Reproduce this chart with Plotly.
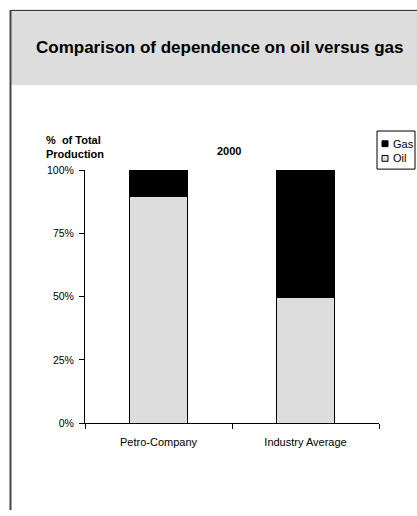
import plotly.graph_objects as go

categories = ["Petro-Company", "Industry Average"]
oil = [0.895, 0.495]
gas = [0.105, 0.505]
series_names = ["Gas", "Oil"]
y_ticks = [0, 0.25, 0.5, 0.75, 1.0]
y_tick_labels = ["0%", "25%", "50%", "75%", "100%"]

W, H = 417, 516
FONT = "Liberation Sans, Arial, sans-serif"
OIL_C = "#DDDDDD"
GAS_C = "#000000"

def px(x):
    return x / W

def py(y):
    return 1 - y / H

fig = go.Figure()
fig.add_trace(go.Bar(x=categories, y=oil, name="Oil", marker=dict(color=OIL_C, line=dict(color="black", width=1)), width=0.4, showlegend=False))
fig.add_trace(go.Bar(x=categories, y=gas, name="Gas", marker=dict(color=GAS_C, line=dict(color="black", width=1)), width=0.4, showlegend=False))

shapes = []
# header band
shapes.append(dict(type="rect", xref="paper", yref="paper", x0=px(11), x1=px(417), y0=py(81), y1=py(5), fillcolor="#DDDDDD", line=dict(width=0), layer="below"))
# frame
shapes.append(dict(type="line", xref="paper", yref="paper", x0=px(10), x1=px(417), y0=py(4.5), y1=py(4.5), line=dict(color="#222222", width=1)))
shapes.append(dict(type="line", xref="paper", yref="paper", x0=px(10.5), x1=px(10.5), y0=py(4), y1=py(516), line=dict(color="#444444", width=2)))
# legend box
lx0, lx1, ly0, ly1 = 377, 415, 128, 167
shapes.append(dict(type="rect", xref="paper", yref="paper", x0=px(lx0), x1=px(lx1), y0=py(ly1), y1=py(ly0), fillcolor="white", line=dict(color="black", width=1)))
legend_colors = {"Gas": GAS_C, "Oil": OIL_C}
ann = []
for i, nm in enumerate(series_names):
    cy = 141 + i * 15
    shapes.append(dict(type="rect", xref="paper", yref="paper", x0=px(382), x1=px(388), y0=py(cy + 3), y1=py(cy - 3), fillcolor=legend_colors[nm], line=dict(color="black", width=1)))
    ann.append(dict(text=nm, xref="paper", yref="paper", x=px(391), y=py(cy), xanchor="left", yanchor="middle", showarrow=False, font=dict(family=FONT, size=11, color="black")))

ann.append(dict(text="<b>Comparison of dependence on oil versus gas</b>", xref="paper", yref="paper", x=px(219.5), y=py(42), xanchor="center", yanchor="middle", showarrow=False, font=dict(family=FONT, size=17, color="black")))
ann.append(dict(text="<b>%  of Total<br>Production</b>", xref="paper", yref="paper", x=px(44), y=py(129), xanchor="left", yanchor="top", align="left", showarrow=False, font=dict(family=FONT, size=11, color="black")))
ann.append(dict(text="<b>2000</b>", xref="paper", yref="paper", x=px(228.5), y=py(148), xanchor="center", yanchor="middle", showarrow=False, font=dict(family=FONT, size=11, color="black")))

fig.update_layout(
    width=W, height=H, margin=dict(l=0, r=0, t=0, b=0),
    paper_bgcolor="white", plot_bgcolor="white",
    barmode="stack", showlegend=False,
    shapes=shapes, annotations=ann,
    xaxis=dict(domain=[px(85), px(379)], range=[-0.5, 1.5], type="category",
               showline=True, linecolor="black", linewidth=1, ticks="outside", ticklen=5,
               tickcolor="black", tickson="boundaries", showgrid=False, ticklabelstandoff=9,
               tickfont=dict(family=FONT, size=11, color="black")),
    yaxis=dict(domain=[py(427), py(168)], range=[0, 1], showline=True, linecolor="black", linewidth=1,
               ticks="outside", ticklen=5, tickcolor="black", tickvals=y_ticks, ticktext=y_tick_labels,
               showgrid=False, zeroline=False, ticklabelstandoff=3,
               tickfont=dict(family=FONT, size=10.5, color="black")),
)
fig.write_html("out.html")
